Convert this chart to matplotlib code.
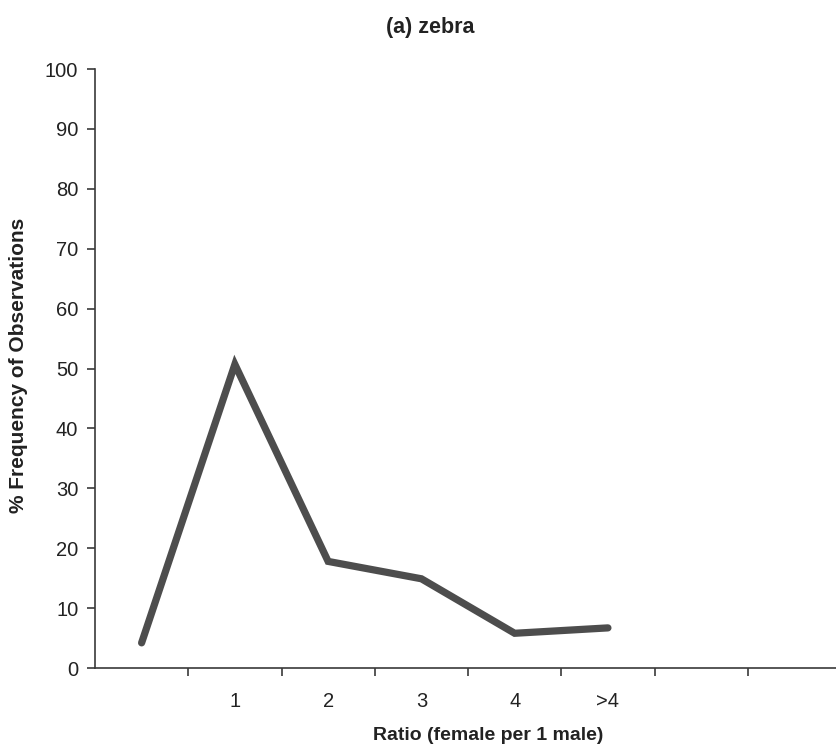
#!/usr/bin/env python3
"""
(a) zebra - sex ratio frequency line chart
"""

import matplotlib
matplotlib.use('Agg')
import matplotlib.pyplot as plt
from matplotlib.ticker import FixedLocator, NullFormatter

plt.rcParams['font.family'] = ['Liberation Sans', 'DejaVu Sans']

# Data
categories = ['', '1', '2', '3', '4', '>4', '', '']
freq = [4.2, 50.7, 17.8, 14.9, 5.8, 6.7]

line_color = '#4d4d4d'
axis_color = '#3a3a3a'
text_color = '#222222'

fig = plt.figure(figsize=(8.36, 7.51), dpi=100)
ax = fig.add_axes([0.1136, 0.1105, 0.8925, 0.7975])

x = list(range(len(freq)))
ax.plot(x, freq, color=line_color, linewidth=5.2,
        solid_capstyle='round', solid_joinstyle='miter')

ax.set_xlim(-0.5, len(categories) - 0.5)
ax.set_ylim(0, 100)

# Excel-style category axis: tick marks between categories, labels centred
ax.set_xticks(range(len(categories)))
ax.set_xticklabels(categories, fontsize=14.5, color=text_color)
ax.tick_params(axis='x', which='major', length=0, pad=17)
ax.xaxis.set_minor_locator(FixedLocator([i - 0.5 for i in range(1, len(categories) + 1)]))
ax.xaxis.set_minor_formatter(NullFormatter())
ax.tick_params(axis='x', which='minor', direction='out', length=6,
               width=1.2, color=axis_color)

ax.set_yticks(range(0, 101, 10))
ax.tick_params(axis='y', direction='out', length=6, width=1.2,
               color=axis_color, labelsize=14.5, labelcolor=text_color, pad=6)

for side in ['top', 'right']:
    ax.spines[side].set_visible(False)
for side in ['left', 'bottom']:
    ax.spines[side].set_color(axis_color)
    ax.spines[side].set_linewidth(1.2)

ax.set_ylabel('% Frequency of Observations', fontsize=15,
              fontweight='bold', color=text_color)
ax.yaxis.set_label_coords(-0.103, 0.506)
ax.set_xlabel('Ratio (female per 1 male)', fontsize=14,
              fontweight='bold', color=text_color)
ax.xaxis.set_label_coords(0.527, -0.112)
ax.xaxis.label.set_va('center')
ax.yaxis.label.set_va('center')
fig.text(0.515, 0.963, '(a) zebra', fontsize=15.5, fontweight='bold',
         ha='center', va='center', color=text_color)

plt.savefig('out.png', dpi=100)
plt.close()
